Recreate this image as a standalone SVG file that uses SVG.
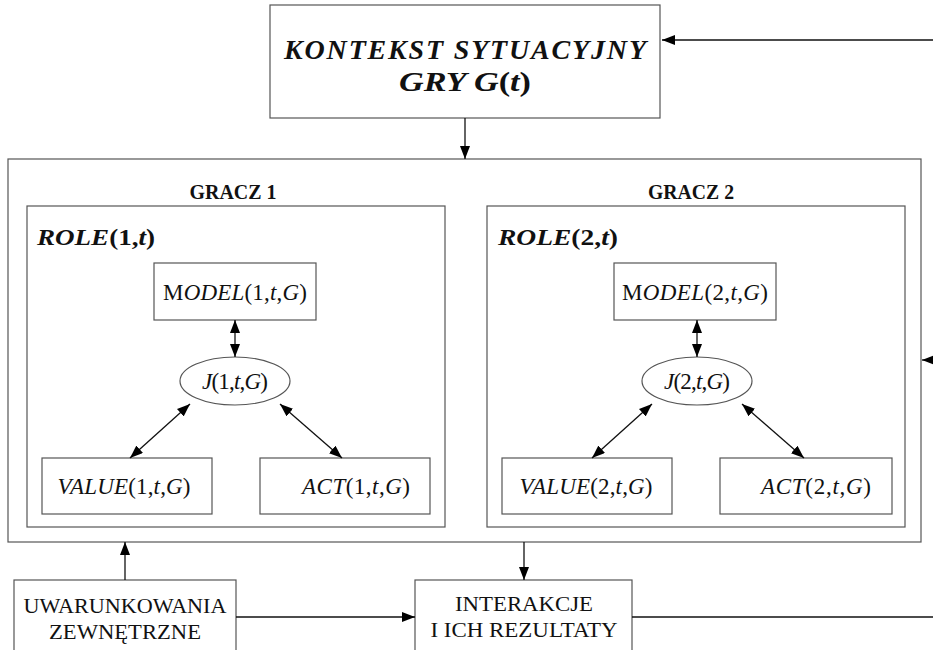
<svg xmlns="http://www.w3.org/2000/svg" width="933" height="650" viewBox="0 0 933 650">
  <defs>
    <marker id="arrow" viewBox="0 0 13 10" refX="13" refY="5" markerWidth="13" markerHeight="10" markerUnits="userSpaceOnUse" orient="auto-start-reverse">
      <path d="M0,0 L13,5 L0,10 z" fill="#000"/>
    </marker>
  </defs>
  <style>
    .box { fill: #fff; stroke: #555; stroke-width: 1.2; }
    .frame { fill: none; stroke: #555; stroke-width: 1.2; }
    .conn { fill: none; stroke: #111; stroke-width: 1.3; }
    text { font-family: "Liberation Serif", "Times New Roman", serif; fill: #111; }
    .title { font-size: 28px; font-weight: bold; font-style: italic; }
    .head { font-size: 20px; font-weight: bold; }
    .role { font-size: 23px; font-weight: bold; font-style: italic; }
    .lbl { font-size: 23px; }
    .it { font-style: italic; }
    .plain { font-size: 22px; }
  </style>

  <rect width="933" height="650" fill="#fff"/>

  <!-- situational context of the game -->
  <g id="kontekst">
    <rect class="box" x="270" y="5" width="390" height="113"/>
    <text class="title" x="465" y="59" text-anchor="middle" textLength="362" lengthAdjust="spacing">KONTEKST SYTUACYJNY</text>
    <text class="title" x="465" y="91" text-anchor="middle" textLength="132" lengthAdjust="spacingAndGlyphs">GRY G<tspan font-style="normal">(</tspan>t<tspan font-style="normal">)</tspan></text>
  </g>

  <!-- outer frame holding both players -->
  <g id="gracze">
    <rect class="frame" x="8" y="159" width="913" height="383"/>
  </g>

  <g id="gracz1">
    <text class="head" x="233" y="199" text-anchor="middle" textLength="87" lengthAdjust="spacingAndGlyphs">GRACZ 1</text>
    <rect class="frame" x="27" y="206" width="418" height="321"/>
    <text class="role" x="37" y="245" textLength="118" lengthAdjust="spacingAndGlyphs">ROLE<tspan font-style="normal">(1,</tspan>t<tspan font-style="normal">)</tspan></text>
  </g>

  <g id="model1">
    <rect class="box" x="154" y="263" width="162" height="57"/>
    <text class="lbl" x="235" y="300" text-anchor="middle" textLength="144" lengthAdjust="spacing">M<tspan class="it">ODEL</tspan>(1,<tspan class="it">t</tspan>,<tspan class="it">G</tspan>)</text>
  </g>
  <g id="j1">
    <ellipse class="box" cx="235" cy="381" rx="55" ry="24"/>
    <text class="lbl" x="235" y="389" text-anchor="middle" textLength="66" lengthAdjust="spacing"><tspan class="it">J</tspan>(1,<tspan class="it">t</tspan>,<tspan class="it">G</tspan>)</text>
  </g>
  <g id="value1">
    <rect class="box" x="42" y="458" width="170" height="56"/>
    <text class="lbl" x="124" y="494" text-anchor="middle" textLength="133" lengthAdjust="spacing"><tspan class="it">VALUE</tspan>(1,<tspan class="it">t</tspan>,<tspan class="it">G</tspan>)</text>
  </g>
  <g id="act1">
    <rect class="box" x="260" y="458" width="170" height="56"/>
    <text class="lbl" x="356" y="494" text-anchor="middle" textLength="108" lengthAdjust="spacing"><tspan class="it">ACT</tspan>(1,<tspan class="it">t</tspan>,<tspan class="it">G</tspan>)</text>
  </g>

  <g id="gracz2">
    <text class="head" x="691" y="199" text-anchor="middle" textLength="86" lengthAdjust="spacingAndGlyphs">GRACZ 2</text>
    <rect class="frame" x="487" y="206" width="418" height="321"/>
    <text class="role" x="498" y="245" textLength="120" lengthAdjust="spacingAndGlyphs">ROLE<tspan font-style="normal">(2,</tspan>t<tspan font-style="normal">)</tspan></text>
  </g>

  <g id="model2">
    <rect class="box" x="614" y="263" width="162" height="57"/>
    <text class="lbl" x="695" y="300" text-anchor="middle" textLength="146" lengthAdjust="spacing">M<tspan class="it">ODEL</tspan>(2,<tspan class="it">t</tspan>,<tspan class="it">G</tspan>)</text>
  </g>
  <g id="j2">
    <ellipse class="box" cx="697" cy="381" rx="55" ry="24"/>
    <text class="lbl" x="697" y="389" text-anchor="middle" textLength="66" lengthAdjust="spacing"><tspan class="it">J</tspan>(2,<tspan class="it">t</tspan>,<tspan class="it">G</tspan>)</text>
  </g>
  <g id="value2">
    <rect class="box" x="502" y="458" width="170" height="56"/>
    <text class="lbl" x="586" y="494" text-anchor="middle" textLength="133" lengthAdjust="spacing"><tspan class="it">VALUE</tspan>(2,<tspan class="it">t</tspan>,<tspan class="it">G</tspan>)</text>
  </g>
  <g id="act2">
    <rect class="box" x="720" y="458" width="172" height="56"/>
    <text class="lbl" x="816" y="494" text-anchor="middle" textLength="110" lengthAdjust="spacing"><tspan class="it">ACT</tspan>(2,<tspan class="it">t</tspan>,<tspan class="it">G</tspan>)</text>
  </g>

  <!-- external conditions -->
  <g id="uwarunkowania">
    <rect class="box" x="14" y="580" width="222" height="90"/>
    <text class="plain" x="125" y="613" text-anchor="middle" textLength="203" lengthAdjust="spacingAndGlyphs">UWARUNKOWANIA</text>
    <text class="plain" x="125" y="639" text-anchor="middle" textLength="152" lengthAdjust="spacingAndGlyphs">ZEWNĘTRZNE</text>
  </g>

  <!-- interactions and their results -->
  <g id="interakcje">
    <rect class="box" x="415" y="580" width="217" height="90"/>
    <text class="plain" x="524" y="611" text-anchor="middle" textLength="138" lengthAdjust="spacingAndGlyphs">INTERAKCJE</text>
    <text class="plain" x="524" y="637" text-anchor="middle" textLength="187" lengthAdjust="spacingAndGlyphs">I ICH REZULTATY</text>
  </g>

  <g id="connectors">
    <!-- feedback lines coming in from the right edge -->
    <line class="conn" x1="933" y1="40" x2="662" y2="40" marker-end="url(#arrow)"/>
    <line class="conn" x1="933" y1="360" x2="922" y2="360" marker-end="url(#arrow)"/>
    <line class="conn" x1="632" y1="617" x2="933" y2="617"/>
    <!-- context to players -->
    <line class="conn" x1="465" y1="118" x2="465" y2="159" marker-end="url(#arrow)"/>
    <!-- player 1 internals -->
    <line class="conn" x1="235" y1="320" x2="235" y2="357" marker-start="url(#arrow)" marker-end="url(#arrow)"/>
    <line class="conn" x1="190" y1="404" x2="130" y2="458" marker-start="url(#arrow)" marker-end="url(#arrow)"/>
    <line class="conn" x1="280" y1="404" x2="342" y2="458" marker-start="url(#arrow)" marker-end="url(#arrow)"/>
    <!-- player 2 internals -->
    <line class="conn" x1="697" y1="320" x2="697" y2="357" marker-start="url(#arrow)" marker-end="url(#arrow)"/>
    <line class="conn" x1="652" y1="404" x2="592" y2="458" marker-start="url(#arrow)" marker-end="url(#arrow)"/>
    <line class="conn" x1="742" y1="404" x2="804" y2="458" marker-start="url(#arrow)" marker-end="url(#arrow)"/>
    <!-- bottom flows -->
    <line class="conn" x1="125" y1="580" x2="125" y2="542" marker-end="url(#arrow)"/>
    <line class="conn" x1="524" y1="542" x2="524" y2="580" marker-end="url(#arrow)"/>
    <line class="conn" x1="236" y1="617" x2="415" y2="617" marker-end="url(#arrow)"/>
  </g>
</svg>
